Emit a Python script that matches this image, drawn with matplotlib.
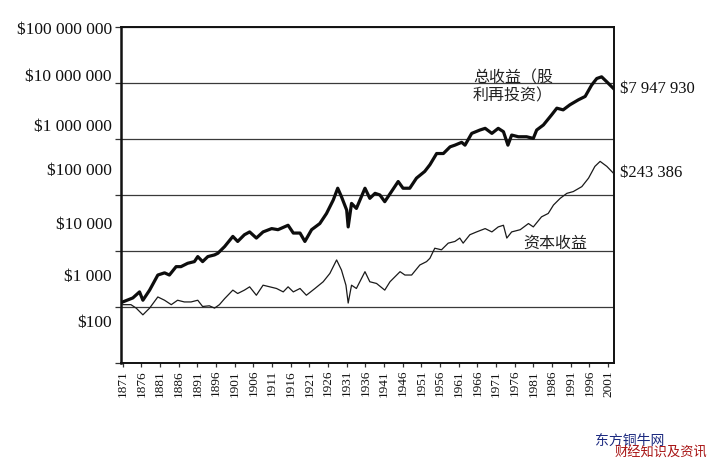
import matplotlib
matplotlib.use("Agg")
import matplotlib.pyplot as plt
import matplotlib.transforms as mtransforms

# ---- data ----
total_years = [1871.0, 1873.7, 1875.5, 1876.4, 1878.2, 1880.4, 1882.2, 1883.5, 1885.3, 1886.6,
               1888.4, 1890.2, 1891.1, 1892.4, 1893.8, 1895.6, 1896.5, 1898.3, 1900.5, 1901.8,
               1903.6, 1905.0, 1906.8, 1908.6, 1910.9, 1912.6, 1915.3, 1916.7, 1918.5, 1919.8,
               1921.6, 1923.8, 1925.6, 1927.4, 1928.6, 1929.6, 1931.0, 1931.4, 1932.3, 1933.6,
               1935.9, 1937.2, 1938.6, 1939.9, 1941.2, 1943.0, 1944.8, 1946.1, 1947.9, 1949.7,
               1951.9, 1953.3, 1955.1, 1956.9, 1958.7, 1960.0, 1961.8, 1962.7, 1964.5, 1966.7,
               1968.1, 1969.9, 1971.6, 1973.0, 1974.2, 1975.2, 1977.0, 1979.2, 1981.0, 1981.9,
               1983.7, 1985.9, 1987.3, 1989.0, 1990.8, 1993.1, 1994.9, 1996.6, 1998.0, 1999.3,
               2000.7, 2002.5]
total_values = [1230, 1450, 1860, 1320, 2000, 3720, 4070, 3720, 5250, 5250,
                6030, 6460, 7940, 6460, 7940, 8510, 9120, 12000, 18200, 14800,
                19500, 21900, 17000, 21900, 25100, 24000, 28800, 20900, 20900, 14800,
                24000, 30900, 46800, 81300, 132000, 93300, 53700, 26900, 70800, 57500,
                132000, 87100, 107000, 100000, 75900, 115000, 174000, 132000, 132000, 200000,
                263000, 347000, 550000, 550000, 724000, 776000, 871000, 776000, 1259000, 1445000,
                1549000, 1259000, 1549000, 1349000, 776000, 1175000, 1096000, 1096000, 1023000, 1445000,
                1778000, 2692000, 3548000, 3311000, 4074000, 5012000, 5754000, 9120000, 12020000, 12880000,
                10470000, 7947930]

capital_years = [1871.0, 1873.2, 1874.6, 1876.4, 1878.2, 1880.4, 1882.2, 1884.0, 1885.7, 1887.5,
                 1889.3, 1891.1, 1892.4, 1894.2, 1895.6, 1896.9, 1898.3, 1900.5, 1901.8, 1903.6,
                 1905.0, 1906.8, 1908.6, 1910.4, 1912.2, 1914.0, 1915.3, 1916.7, 1918.5, 1920.2,
                 1922.5, 1924.7, 1926.5, 1928.3, 1929.6, 1930.8, 1931.4, 1932.3, 1933.6, 1935.9,
                 1937.2, 1939.0, 1941.2, 1942.6, 1945.3, 1946.6, 1948.4, 1950.6, 1952.4, 1953.3,
                 1954.6, 1956.4, 1958.2, 1960.0, 1961.3, 1962.2, 1964.0, 1965.8, 1968.1, 1969.9,
                 1971.6, 1973.0, 1973.9, 1975.2, 1977.5, 1979.7, 1981.0, 1983.2, 1985.0, 1986.4,
                 1988.2, 1990.0, 1991.7, 1994.0, 1995.8, 1997.5, 1998.9, 2000.7, 2002.5]
capital_values = [1100, 1100, 955, 724, 955, 1510, 1320, 1100, 1320, 1230,
                  1230, 1320, 1020, 1050, 955, 1100, 1410, 2000, 1740, 2000,
                  2290, 1620, 2450, 2290, 2140, 1860, 2290, 1860, 2140, 1620,
                  2140, 2820, 3980, 6920, 4570, 2450, 1175, 2450, 2140, 4270,
                  2820, 2630, 2000, 2820, 4270, 3720, 3720, 5620, 6460, 7410,
                  11200, 10500, 13800, 14800, 17000, 13800, 19500, 21900, 25100, 21900,
                  26900, 28800, 17000, 21900, 24000, 30900, 26900, 40700, 46800, 66100,
                  87100, 107000, 115000, 141000, 200000, 324000, 398000, 324000, 243386]

y_ticks = [1e2, 1e3, 1e4, 1e5, 1e6, 1e7, 1e8]
y_labels = ["$100", "$1 000", "$10 000", "$100 000", "$1 000 000", "$10 000 000", "$100 000 000"]
x_ticks = list(range(1871, 2002, 5))
x_labels = [str(y) for y in x_ticks]

total_label = "总收益（股\n利再投资）"
capital_label = "资本收益"
total_end_label = "$7 947 930"
capital_end_label = "$243 386"

# ---- figure ----
SERIF = ["Liberation Serif", "DejaVu Serif"]
CJK = ["Noto Sans CJK SC", "DejaVu Sans"]

fig = plt.figure(figsize=(7.11, 4.70), dpi=100)
ax = fig.add_axes([0.170, 0.2277, 0.694, 0.7149])

ax.set_yscale("log")
ax.set_xlim(1870.5, 2002.7)
ax.set_ylim(1e2, 1e8)

for v in y_ticks:
    ax.axhline(v, color="#3a3a3a", lw=0.9, zorder=1)

ax.plot(capital_years, capital_values, color="#1a1a1a", lw=0.9, zorder=3)
ax.plot(total_years, total_values, color="#0d0d0d", lw=2.3, zorder=4)

# spines
for side in ["left", "right", "top", "bottom"]:
    ax.spines[side].set_color("#111111")
    ax.spines[side].set_linewidth(1.4)
ax.spines["left"].set_linewidth(1.8)

ax.set_yticks(y_ticks)
ax.set_yticklabels([""] * len(y_ticks))
ax.yaxis.set_minor_locator(matplotlib.ticker.NullLocator())
ax.tick_params(axis="y", direction="out", length=4, width=0.9, color="#333333")

ax.set_xticks(x_ticks)
ax.set_xticklabels(x_labels, rotation=90, fontsize=9.5, family=SERIF, color="#111111")
ax.tick_params(axis="x", direction="out", length=3, width=0.9, pad=2, color="#333333")

# y labels (placed as in the reference, slightly off the gridlines)
label_fracs = [0.119, 0.256, 0.410, 0.570, 0.702, 0.851, 0.991]
for lab, fr in zip(y_labels, label_fracs):
    ax.text(-0.018, fr, lab, transform=ax.transAxes, ha="right", va="center",
            fontsize=12.5, family=SERIF, color="#111111")

# annotations
ax.text(1964.8, 10 ** 6.93, total_label, ha="left", va="center", fontsize=11.5,
        family=CJK, color="#222222", linespacing=1.1, zorder=5)
ax.text(1978.2, 10 ** 4.14, capital_label, ha="left", va="center", fontsize=11.5,
        family=CJK, color="#222222", zorder=5)

blend = mtransforms.blended_transform_factory(ax.transAxes, ax.transData)
ax.text(1.012, total_values[-1], total_end_label, transform=blend, ha="left", va="center",
        fontsize=12, family=SERIF, color="#111111")
ax.text(1.012, capital_values[-1], capital_end_label, transform=blend, ha="left", va="center",
        fontsize=12, family=SERIF, color="#111111")

# watermark
fig.text(0.837, 0.0617, "东方铜牛网", ha="left", va="center", fontsize=10,
         family=CJK, color="#1c2a80")
fig.text(0.865, 0.036, "财经知识及资讯", ha="left", va="center", fontsize=9.5,
         family=CJK, color="#a81414")

fig.savefig("out.png", dpi=100)
